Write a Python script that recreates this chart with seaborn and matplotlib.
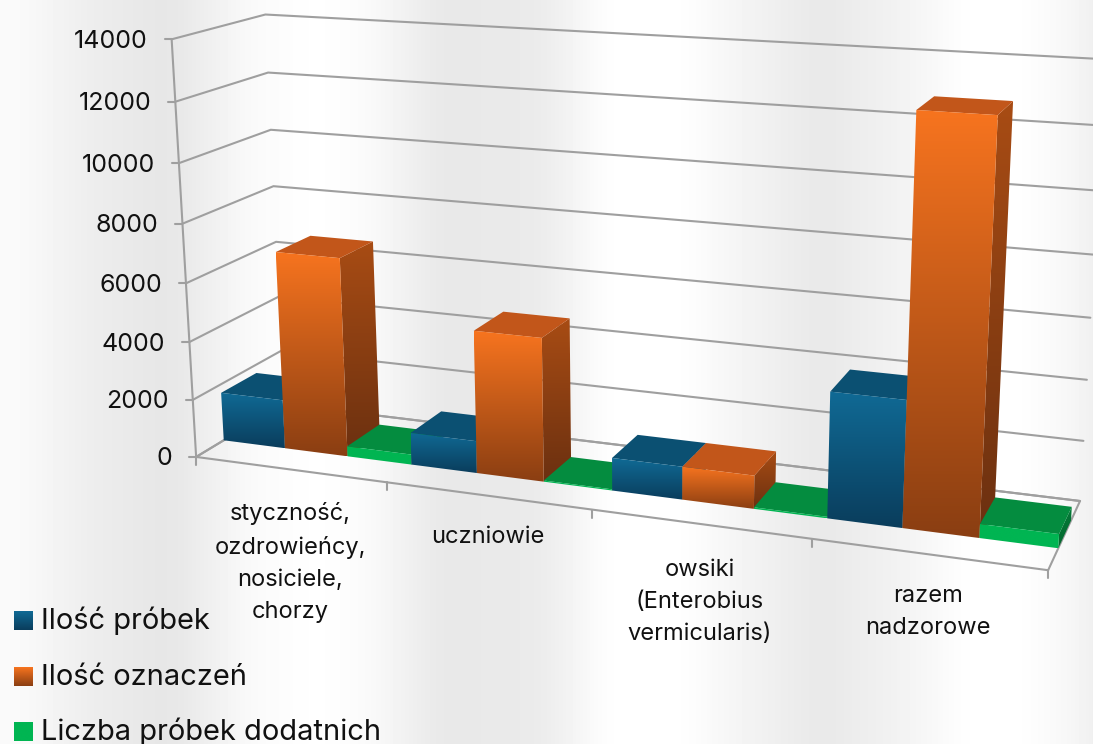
import numpy as np
import pandas as pd
import seaborn as sns
import matplotlib
matplotlib.use("Agg")
import matplotlib.pyplot as plt
from matplotlib.colors import LinearSegmentedColormap
from matplotlib.patches import Polygon

# Chart values
categories = ["styczność,\nozdrowieńcy,\nnosiciele,\nchorzy", "uczniowie",
              "owsiki\n(Enterobius\nvermicularis)", "razem\nnadzorowe"]
series = ["Ilość próbek", "Ilość oznaczeń", "Liczba próbek dodatnich"]
probki = [1700, 1100, 1100, 4100]
oznaczenia = [6830, 4840, 1100, 12900]
dodatnie = [350, 40, 50, 450]
y_ticks = [0, 2000, 4000, 6000, 8000, 10000, 12000, 14000]

# (front colour top, bottom), (top face), (side colour top, bottom)
front_cols = [("#106a95", "#0a3d5c"), ("#f7741f", "#8a3e12"), ("#00b552", "#00b552")]
top_cols = ["#0b5072", "#c2561a", "#048c3f"]
side_cols = [("#0a4a68", "#083a54"), ("#a84c14", "#6b3010"), ("#047a38", "#04692f")]
bg_x = [0, 70, 150, 230, 300, 350, 420, 520, 590, 660, 700, 800, 880, 950, 1000, 1060, 1093]
bg_v = [0.98, 0.93, 0.90, 0.98, 1.0, 0.98, 0.91, 0.92, 1.0, 1.0, 0.97, 0.91, 0.95, 1.0, 1.0, 0.96, 0.91]

sns.set_theme(style="white")
plt.rcParams["font.family"] = ["Inter", "DejaVu Sans"]

fig = plt.figure(figsize=(10.93, 7.44), dpi=100)
canvas = fig.add_axes([0, 0, 1, 1])
data_ax = fig.add_axes([0, 0, 1, 1])

# Flat bars from seaborn, these give x, width and height of every box
df = pd.DataFrame({"kat": categories * 3,
                   "seria": np.repeat(series, 4),
                   "wartosc": probki + oznaczenia + dodatnie})
sns.barplot(data=df, x="kat", y="wartosc", hue="seria", hue_order=series,
            order=categories, width=1, gap=0, legend=False, errorbar=None, ax=data_ax)
data_ax.set_visible(False)

# Camera: frame corners of the chart box (x cat, depth 0-1, value) -> pixels
frame_3d = [(-0.5, 0, 0), (-0.5, 0, 14000), (-0.5, 1, 0), (-0.5, 1, 14000),
            (3.5, 0, 0), (3.5, 1, 0), (3.5, 1, 14000),
            (0.5, 0, 0), (1.5, 0, 0), (2.5, 0, 0)]
frame_px = [(196, 457), (172, 39), (284, 403), (265, 15),
            (1048, 568), (1080, 502), (1105, 59),
            (387, 483), (592, 510), (812, 540)]


def norm(p):
    return ((p[0] + 0.5) / 4, p[1], p[2] / 14000)


rows = []
for p3, (u, v) in zip(frame_3d, frame_px):
    X = [*norm(p3), 1]
    rows.append(X + [0, 0, 0, 0] + [-u * c for c in X])
    rows.append([0, 0, 0, 0] + X + [-v * c for c in X])
P = np.linalg.svd(np.array(rows, dtype=float))[2][-1].reshape(3, 4)


def proj(x, d, z):
    h = P @ np.array([*norm((x, d, z)), 1])
    return h[0] / h[2], h[1] / h[2]


def gradient_face(pts, c_top, c_bottom, z):
    pts = np.array(pts)
    cmap = LinearSegmentedColormap.from_list("f", [c_top, c_bottom])
    im = canvas.imshow(np.linspace(0, 1, 256)[:, None], cmap=cmap, aspect="auto",
                       extent=(pts[:, 0].min(), pts[:, 0].max(), pts[:, 1].max(), pts[:, 1].min()),
                       zorder=z, interpolation="bilinear")
    im.set_clip_path(Polygon(pts, transform=canvas.transData))


# Background bands, smoothed a little so the kinks do not show
xs = np.arange(-40, 1133)
bg = np.interp(xs, bg_x, bg_v)
bg = np.convolve(bg, np.ones(41) / 41, mode="valid")[:1093]
canvas.imshow(bg[None, :], cmap="gray", vmin=0, vmax=1, aspect="auto",
              extent=(0, 1093, 744, 0), zorder=0)

# Walls and grid
grid_c = "#9f9f9f"
for val in y_ticks:
    pts = [proj(-0.5, 0, val), proj(-0.5, 1, val), proj(3.5, 1, val)]
    canvas.plot(*zip(*pts), color=grid_c, lw=1.5, zorder=1)
    fx, fy = proj(-0.5, 0, val)
    canvas.plot([fx - 7, fx], [fy, fy], color=grid_c, lw=1.5, zorder=1)
    canvas.text(fx - 24, fy + 2, str(val), ha="right", va="center", fontsize=18, color="#111111")

canvas.plot(*zip(proj(-0.5, 0, 0), proj(-0.5, 0, 14000)), color=grid_c, lw=1.5, zorder=1)
floor = [proj(-0.5, 0, 0), proj(3.5, 0, 0), proj(3.5, 1, 0), proj(-0.5, 1, 0), proj(-0.5, 0, 0)]
canvas.plot(*zip(*floor), color=grid_c, lw=1.5, zorder=1)
for i in range(5):
    tx, ty = proj(i - 0.5, 0, 0)
    canvas.plot([tx, tx], [ty, ty + 8], color=grid_c, lw=1.5, zorder=1)

# Boxes, left to right so that nearer ones cover the ones behind
d0, d1 = 0.3, 0.7
bars = sorted(enumerate(data_ax.patches), key=lambda b: b[1].get_x())
z = 3
for idx, bar in bars:
    s = idx // 4
    a, b, v = bar.get_x(), bar.get_x() + bar.get_width(), bar.get_height()
    front = [proj(a, d0, v), proj(b, d0, v), proj(b, d0, 0), proj(a, d0, 0)]
    side = [proj(b, d0, v), proj(b, d1, v), proj(b, d1, 0), proj(b, d0, 0)]
    top = [proj(a, d1, v), proj(b, d1, v), proj(b, d0, v), proj(a, d0, v)]
    gradient_face(side, side_cols[s][0], side_cols[s][1], z)
    canvas.add_patch(Polygon(top, closed=True, fc=top_cols[s], ec="none", zorder=z + 1))
    gradient_face(front, front_cols[s][0], front_cols[s][1], z + 2)
    z += 3

# Category labels
label_pos = [(290, 502), (488, 526), (700, 559), (928, 585)]
for text, (lx, ly) in zip(categories, label_pos):
    canvas.text(lx, ly, text, ha="center", va="top", fontsize=17, color="#111111", linespacing=1.6)

# Legend
leg_y = [611, 667, 722]
for name, col, y0 in zip(series, front_cols, leg_y):
    gradient_face([(14, y0), (33, y0), (33, y0 + 19), (14, y0 + 19)], col[0], col[1], 200)
    canvas.text(41, y0 + 18, name, ha="left", va="baseline", fontsize=20.9, color="#111111", zorder=201)

canvas.set_xlim(0, 1093)
canvas.set_ylim(744, 0)
canvas.axis("off")

fig.savefig("out.png", dpi=100)
